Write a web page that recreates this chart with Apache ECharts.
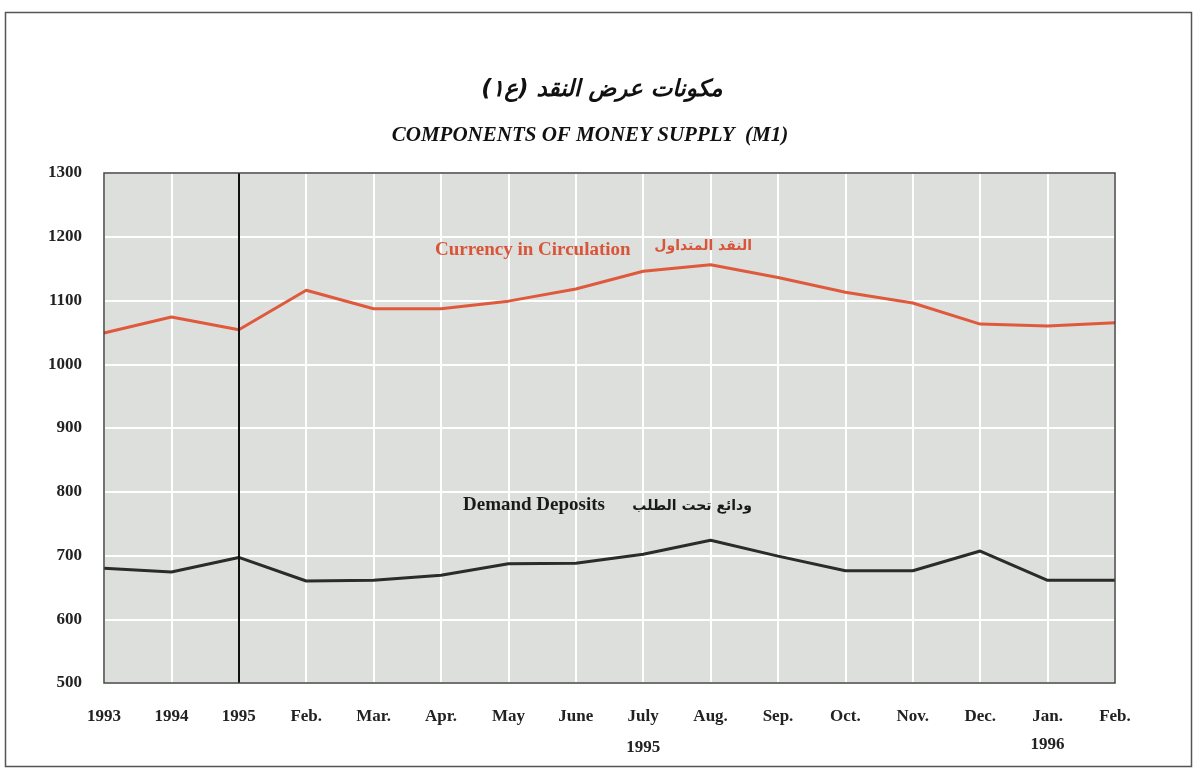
<!DOCTYPE html>
<html>
<head>
<meta charset="utf-8">
<script src="https://cdn.jsdelivr.net/npm/echarts@6/dist/echarts.min.js"></script>
<style>
html,body{margin:0;padding:0;background:#fff;}
#c{width:1200px;height:770px;}
</style>
</head>
<body>
<div id="c"></div>
<script>
var categories = ['1993','1994','1995','Feb.','Mar.','Apr.','May','June','July','Aug.','Sep.','Oct.','Nov.','Dec.','Jan.','Feb.'];
var currencyInCirculation = [1049,1074,1054,1116,1087,1087,1099,1118,1146,1156,1136,1113,1096,1063,1060,1065];
var demandDeposits = [680,674,697,660,661,669,687,688,702,724,699,676,676,707,661,661];
var yearUnderLabel = {8:'1995', 14:'1996'};
var yTicks = {min:500, max:1300, interval:100};

var serif = '"Liberation Serif", "DejaVu Serif", serif';
var arabic = '"DejaVu Sans", "Noto Sans", sans-serif';
var G = {left:104, right:85, top:173, bottom:87};

var chart = echarts.init(document.getElementById('c'), null, {renderer:'canvas'});
chart.setOption({
  backgroundColor:'#fff',
  animation:false,
  grid:{left:G.left,right:G.right,top:G.top,bottom:G.bottom,outerBoundsMode:'none',containLabel:false,show:true,backgroundColor:'#dcdfdb',borderWidth:0},
  xAxis:{
    type:'category',
    data:categories,
    boundaryGap:false,
    axisLine:{show:false},
    axisTick:{show:false},
    splitLine:{show:true,lineStyle:{color:'#ffffff',width:2}},
    axisLabel:{
      margin:25,
      interval:0,
      color:'#222',
      fontFamily:serif,
      fontWeight:'bold',
      fontSize:17,
      formatter:function(v,i){
        if (i === 8) return v + '\n{a|' + yearUnderLabel[i] + '}';
        if (i === 14) return v + '\n{b|' + yearUnderLabel[i] + '}';
        return v;
      },
      rich:{
        a:{fontFamily:serif,fontWeight:'bold',fontSize:17,color:'#222',lineHeight:46},
        b:{fontFamily:serif,fontWeight:'bold',fontSize:17,color:'#222',lineHeight:40}
      }
    }
  },
  yAxis:{
    type:'value',
    min:yTicks.min,max:yTicks.max,interval:yTicks.interval,
    axisLine:{show:false},
    axisTick:{show:false},
    splitLine:{show:true,lineStyle:{color:'#ffffff',width:2}},
    axisLabel:{margin:22,padding:[5,0,0,0],color:'#222',fontFamily:serif,fontWeight:'bold',fontSize:17,formatter:function(v){return String(v);}}
  },
  series:[
    {
      name:'Currency in Circulation',
      type:'line',
      data:currencyInCirculation,
      symbol:'none',
      lineStyle:{color:'#df5a3c',width:3},
      z:3
    },
    {
      name:'Demand Deposits',
      type:'line',
      data:demandDeposits,
      symbol:'none',
      lineStyle:{color:'#2b2b2b',width:3},
      z:3,
      markLine:{
        silent:true,
        symbol:'none',
        label:{show:false},
        lineStyle:{color:'#111',width:2,type:'solid'},
        data:[{xAxis:'1995'}]
      }
    }
  ],
  graphic:[
    {type:'rect',z:100,left:3,top:10,shape:{width:1186,height:754},style:{fill:'none',stroke:'#555',lineWidth:1.5},silent:true},
    {type:'rect',z:100,x:G.left,y:G.top,shape:{width:1200-G.left-G.right,height:770-G.top-G.bottom},style:{fill:'none',stroke:'#444',lineWidth:1.5},silent:true},
    {type:'text',z:100,x:602,y:90,style:{text:'مكونات عرض النقد (ع١)',font:'italic bold 23px '+arabic,fill:'#111',align:'center',verticalAlign:'middle'}},
    {type:'text',z:100,x:590,y:136,style:{text:'COMPONENTS OF MONEY SUPPLY  (M1)',font:'italic bold 21px '+serif,fill:'#111',align:'center',verticalAlign:'middle'}},
    {type:'text',z:100,x:435,y:250,style:{text:'Currency in Circulation',font:'bold 19px '+serif,fill:'#d9553a',align:'left',verticalAlign:'middle'}},
    {type:'text',z:100,x:752,y:246,style:{text:'النقد المتداول',font:'bold 14px '+arabic,fill:'#d9553a',align:'right',verticalAlign:'middle'}},
    {type:'text',z:100,x:463,y:505,style:{text:'Demand Deposits',font:'bold 19px '+serif,fill:'#1a1a1a',align:'left',verticalAlign:'middle'}},
    {type:'text',z:100,x:752,y:506,style:{text:'ودائع تحت الطلب',font:'bold 14px '+arabic,fill:'#1a1a1a',align:'right',verticalAlign:'middle'}}
  ]
});
</script>
</body>
</html>
